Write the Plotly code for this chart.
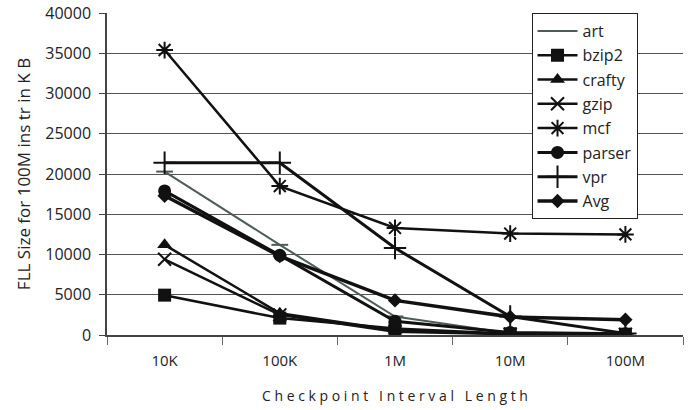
import plotly.graph_objects as go

categories = ["10K", "100K", "1M", "10M", "100M"]
art = [20300, 11200, 2300, 200, 100]
bzip2 = [4950, 2100, 800, 150, 100]
crafty = [11200, 2700, 600, 120, 100]
gzip = [9400, 2500, 400, 100, 80]
mcf = [35400, 18500, 13300, 12600, 12500]
parser = [17900, 9900, 1700, 300, 150]
vpr = [21400, 21400, 10800, 2300, 200]
avg = [17300, 9800, 4300, 2250, 1900]
y_ticks = [0, 5000, 10000, 15000, 20000, 25000, 30000, 35000, 40000]

series = [
    ("art", art, "#4d5b5b", "line-ew-open", 2, 12),
    ("bzip2", bzip2, "#111111", "square", 2.5, 13),
    ("crafty", crafty, "#111111", "triangle-up", 2.5, 13),
    ("gzip", gzip, "#111111", "x-thin-open", 2.5, 13),
    ("mcf", mcf, "#111111", "asterisk-open", 2.5, 14),
    ("parser", parser, "#111111", "circle", 3, 13),
    ("vpr", vpr, "#111111", "cross-thin-open", 3, 16),
    ("Avg", avg, "#111111", "diamond", 3.5, 11),
]

fig = go.Figure()
for name, vals, color, sym, lw, ms in series:
    fig.add_trace(go.Scatter(
        x=categories, y=vals, name=name, mode="lines+markers",
        legendgroup=name,
        line=dict(color=color, width=lw),
        marker=dict(symbol=sym, size=ms, color=color,
                    line=dict(color=color, width=2 if "open" in sym else 0)),
    ))

font_family = "Open Sans, DejaVu Sans, sans-serif"
fig.update_layout(
    width=693, height=410,
    margin=dict(l=107, r=10, t=13, b=75, autoexpand=False),
    paper_bgcolor="white", plot_bgcolor="white",
    font=dict(family=font_family, size=16, color="#222222"),
    showlegend=True,
    legend=dict(
        x=0.737, y=1.0, xanchor="left", yanchor="top",
        bordercolor="#222222", borderwidth=1, bgcolor="white",
        font=dict(size=16), tracegroupgap=0.5, itemwidth=40,
    ),
    xaxis=dict(
        type="category", categoryorder="array", categoryarray=categories,
        automargin=False,
        showline=True, linecolor="#444444", linewidth=1.5,
        ticks="outside", tickson="boundaries", ticklen=8, tickcolor="#666666",
        showgrid=False, range=[-0.5, 4.5],
        tickfont=dict(size=15), ticklabelstandoff=11,
        title=dict(text="C h e c k p o i n t &nbsp; I n t e r v a l &nbsp; L e n g t h",
                   font=dict(size=14), standoff=22),
    ),
    yaxis=dict(
        range=[0, 40000], tickvals=y_ticks, ticktext=[str(v) for v in y_ticks],
        automargin=False,
        showline=True, linecolor="#444444", linewidth=1.5,
        ticks="outside", ticklen=6, tickcolor="#444444",
        showgrid=True, gridcolor="#555555", gridwidth=1,
        zeroline=False, ticklabelstandoff=5,
        title=dict(text="FLL Size for 100M ins tr in K B", font=dict(size=17), standoff=10),
    ),
)

fig.write_html("out.html")
